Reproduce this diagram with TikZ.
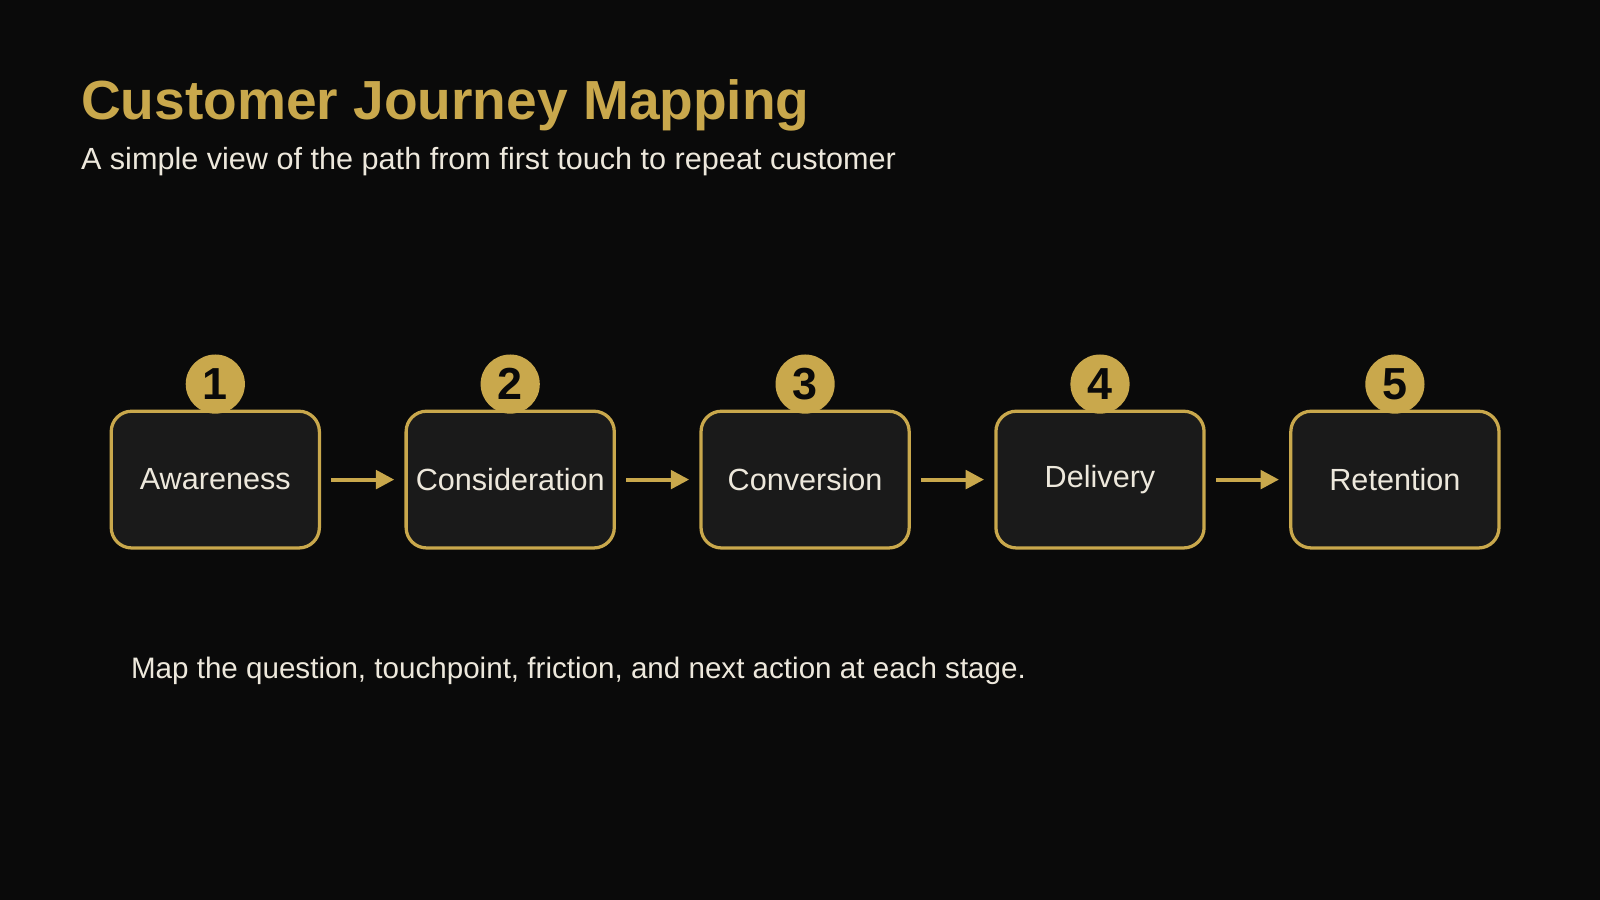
\documentclass[tikz,border=0pt]{standalone}
\usepackage{fontspec}
\setmainfont{Liberation Sans}
\usetikzlibrary{arrows.meta,positioning,calc}
\definecolor{bgdark}{HTML}{0A0A0A}
\definecolor{boxfill}{HTML}{1A1A1A}
\definecolor{gold}{HTML}{C9A84C}
\definecolor{lighttext}{HTML}{EDE8DC}
\begin{document}
\begin{tikzpicture}[x=0.5pt,y=-0.5pt,
  stage/.style={draw=gold, line width=1.6pt, fill=boxfill, rounded corners=10pt,
    minimum width=102pt, minimum height=67pt, text=lighttext, font=\fontsize{15}{18}\selectfont},
  badge/.style={circle, fill=gold, minimum size=29pt, inner sep=0pt,
    text=bgdark, font=\bfseries\fontsize{22}{24}\selectfont},
  flow/.style={-{Triangle[length=9pt,width=9pt]}, gold, line width=2pt}]

% background
\fill[bgdark] (0,0) rectangle (1568,882);
\useasboundingbox (0,0) rectangle (1568,882);

\node (title) [anchor=base west, text=gold, font=\bfseries\fontsize{27}{30}\selectfont, inner sep=0pt]
  at (79,117) {Customer Journey Mapping};
\node (sub) [anchor=base west, text=lighttext, font=\fontsize{15}{18}\selectfont, inner sep=0pt]
  at (79,166) {A simple view of the path from first touch to repeat customer};

% stages
\node (s1) [stage] at (211,470) {Awareness};
\node (s2) [stage] at (500,470) {Consideration};
\node (s3) [stage] at (789,470) {Conversion};
\node (s4) [stage] at (1078,470) {Delivery};
\node (s5) [stage] at (1367,470) {Retention};

\foreach \i in {1,...,5}
  \node (b\i) [badge] at ($(s\i.north)+(0,-25)$) {\i};

\draw [flow] ([xshift=5pt]s1.east) -- ([xshift=-5pt]s2.west);
\draw [flow] ([xshift=5pt]s2.east) -- ([xshift=-5pt]s3.west);
\draw [flow] ([xshift=5pt]s3.east) -- ([xshift=-5pt]s4.west);
\draw [flow] ([xshift=5pt]s4.east) -- ([xshift=-5pt]s5.west);

\node (note) [anchor=base west, text=lighttext, font=\fontsize{14.5}{18}\selectfont, inner sep=0pt]
  at (128,665) {Map the question, touchpoint, friction, and next action at each stage.};

\end{tikzpicture}
\end{document}
